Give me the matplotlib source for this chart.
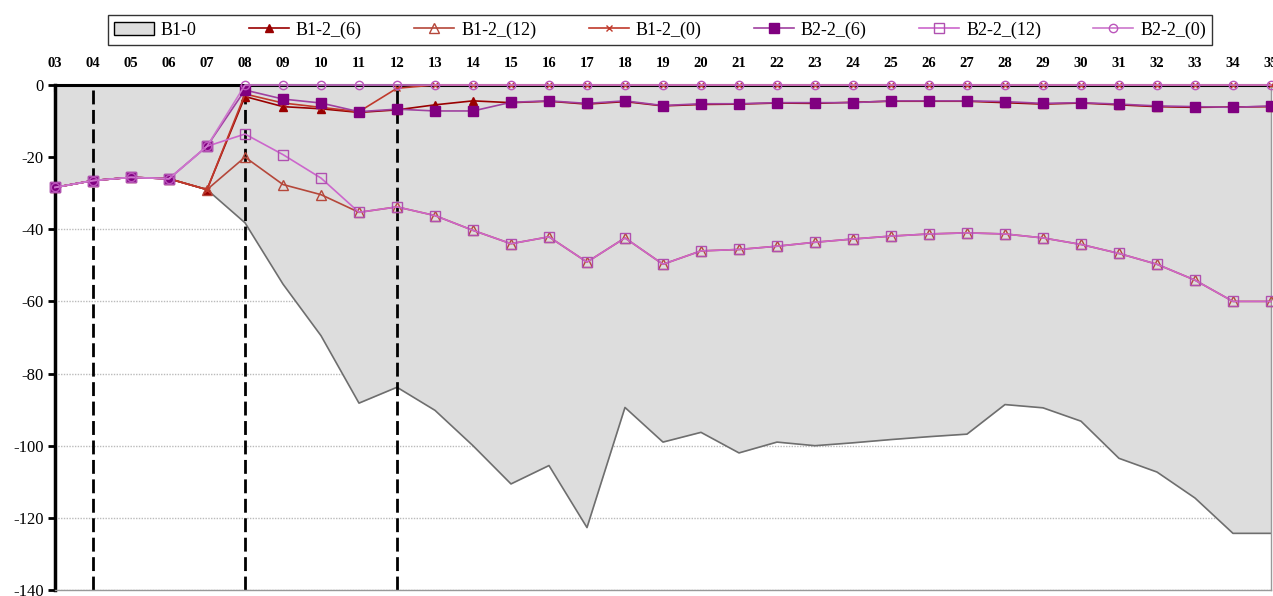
"""Weekly deviation chart of the B1 / B2 series (Excel style, axis on top)."""
import matplotlib
matplotlib.use("Agg")
import matplotlib.pyplot as plt
import matplotlib.patches as mpatches
import numpy as np

plt.rcParams["font.family"] = ["Liberation Serif", "DejaVu Serif"]
plt.rcParams["axes.unicode_minus"] = False

weeks = ["%02d" % w for w in range(3, 36)]

b1_0 = [-28.4, -26.5, -25.6, -26.0, -29.0, -38.2, -55.2, -69.5, -88.2, -83.8,
        -90.2, -100.0, -110.6, -105.5, -122.7, -89.4, -99.0, -96.3, -102.0, -99.0,
        -100.0, -99.2, -98.3, -97.5, -96.8, -88.6, -89.5, -93.2, -103.5, -107.3,
        -114.5, -124.3, -124.3]
b1_2_6 = [-28.4, -26.5, -25.6, -26.0, -29.0, -3.2, -6.0, -6.6, -7.6, -6.9,
          -5.5, -4.4, -4.9, -4.5, -5.3, -4.6, -5.8, -5.4, -5.3, -5.0,
          -5.1, -4.8, -4.5, -4.5, -4.5, -4.9, -5.3, -5.0, -5.5, -6.0,
          -6.2, -6.1, -6.0]
b1_2_12 = [-28.4, -26.5, -25.6, -26.0, -29.0, -20.0, -27.6, -30.4, -35.3, -33.8,
           -36.2, -40.3, -44.0, -42.1, -49.1, -42.4, -49.7, -46.0, -45.6, -44.7,
           -43.6, -42.7, -41.9, -41.3, -41.0, -41.3, -42.4, -44.2, -46.7, -49.7,
           -54.1, -60.0, -60.0]
b1_2_0 = [-28.4, -26.5, -25.6, -26.0, -29.0, -2.5, -5.0, -6.2, -7.4, -0.9] + [0.0] * 23
b2_2_6 = [-28.4, -26.5, -25.6, -26.0, -17.0, -1.4, -3.9, -5.0, -7.4, -6.7,
          -7.2, -7.2, -4.8, -4.4, -5.1, -4.4, -5.7, -5.2, -5.2, -4.9,
          -4.9, -4.9, -4.4, -4.4, -4.4, -4.6, -5.1, -4.9, -5.3, -5.8,
          -6.0, -6.2, -5.8]
b2_2_12 = [-28.4, -26.5, -25.6, -26.0, -17.0, -13.6, -19.3, -25.8, -35.3, -33.8,
           -36.2, -40.3, -44.0, -42.1, -49.1, -42.4, -49.7, -46.0, -45.6, -44.7,
           -43.6, -42.7, -41.9, -41.3, -41.0, -41.3, -42.4, -44.2, -46.7, -49.7,
           -54.1, -60.0, -60.0]
b2_2_0 = [-28.4, -26.5, -25.6, -26.0, -17.0] + [0.0] * 28

marked_weeks = ["04", "08", "12"]

x = np.arange(len(weeks))

fig = plt.figure(figsize=(12.73, 5.96), dpi=100)
ax = fig.add_axes([0.0432, 0.0101, 0.9552, 0.8473])

# grey area B1-0
ax.fill_between(x, 0, b1_0, color="#dddddd", zorder=1, linewidth=0)
ax.plot(x, b1_0, color="#6e6e6e", linewidth=1.2, zorder=1.5)

for w in marked_weeks:
    ax.axvline(weeks.index(w), color="black", linewidth=2, dashes=(5, 2), zorder=2)

series = [
    (b1_2_6, "B1-2_(6)", dict(color="#990000", marker="^", mfc="#990000", mec="#990000", ms=6)),
    (b1_2_12, "B1-2_(12)", dict(color="#b5473a", marker="^", mfc="none", mec="#b5473a", ms=7)),
    (b1_2_0, "B1-2_(0)", dict(color="#c0392b", marker="x", mec="#c0392b", ms=5)),
    (b2_2_6, "B2-2_(6)", dict(color="#a040a0", marker="s", mfc="#800080", mec="#800080", ms=6.5)),
    (b2_2_12, "B2-2_(12)", dict(color="#cc66cc", marker="s", mfc="none", mec="#b050b0", ms=6.5)),
    (b2_2_0, "B2-2_(0)", dict(color="#cc77cc", marker="o", mfc="none", mec="#bb55bb", ms=6)),
]
handles = [mpatches.Patch(facecolor="#dddddd", edgecolor="black", linewidth=1, label="B1-0")]
for i, (vals, lab, kw) in enumerate(series):
    h, = ax.plot(x, vals, linewidth=1.2, label=lab, zorder=3 + i, clip_on=False, **kw)
    handles.append(h)

ax.set_xlim(0, len(weeks) - 1)
ax.set_ylim(-140, 0)
ax.set_xticks(x)
ax.set_xticklabels(weeks, fontweight="bold", fontsize=10.5)
ax.xaxis.tick_top()
ax.tick_params(axis="x", direction="in", length=5, width=1.5, pad=11, color="black")
ax.set_yticks(np.arange(-140, 1, 20))
ax.tick_params(axis="y", direction="out", length=5, width=2, labelsize=12, pad=3)

ax.set_axisbelow(True)
ax.yaxis.grid(True, linestyle=(0, (1, 1)), color="#bbbbbb", linewidth=1)

ax.spines["top"].set_linewidth(2.2)
ax.spines["left"].set_linewidth(2.5)
ax.spines["top"].set_zorder(2.5)
for s in ("right", "bottom"):
    ax.spines[s].set_color("#999999")
    ax.spines[s].set_linewidth(1)

leg = fig.legend(handles=handles, loc="center", ncol=7, bbox_to_anchor=(660 / 1273, 1 - 30 / 596),
                 fontsize=13, frameon=True, fancybox=False, edgecolor="black",
                 columnspacing=2.9, handlelength=2.2, handletextpad=0.4, borderpad=0.35)
leg.get_frame().set_linewidth(1)

fig.savefig("out.png", dpi=100)
